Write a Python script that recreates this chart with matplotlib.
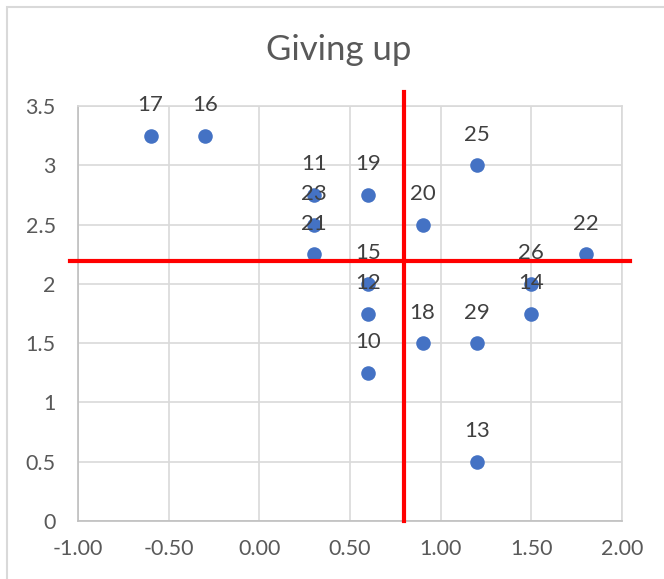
import matplotlib.pyplot as plt
from matplotlib.patches import Rectangle

# ------------------------------------------------------------
# Data
# ------------------------------------------------------------
ids = [17, 16, 11, 23, 21, 19, 15, 12, 10, 20, 18, 25, 29, 13, 26, 14, 22]
xs = [-0.6, -0.3, 0.3, 0.3, 0.3, 0.6, 0.6, 0.6, 0.6, 0.9, 0.9, 1.2, 1.2, 1.2, 1.5, 1.5, 1.8]
ys = [3.25, 3.25, 2.75, 2.5, 2.25, 2.75, 2.0, 1.75, 1.25, 2.5, 1.5, 3.0, 1.5, 0.5, 2.0, 1.75, 2.25]

# quadrant divider lines
vline_x = [0.8, 0.8]
vline_y = [0.0, 3.62]
hline_x = [-1.045, 2.045]
hline_y = [2.19, 2.19]

xticks = [-1.0, -0.5, 0.0, 0.5, 1.0, 1.5, 2.0]
yticks = [0, 0.5, 1, 1.5, 2, 2.5, 3, 3.5]

# ------------------------------------------------------------
# Plot
# ------------------------------------------------------------
plt.rcParams['font.family'] = ['Lato', 'DejaVu Sans']
txt = '#595959'
grid = '#d9d9d9'

W, H = 664, 579
fig = plt.figure(figsize=(W / 100, H / 100), dpi=100)
fig.patches.append(Rectangle((7 / W, -0.1), 1.2, 1 - 7 / H + 0.1,
                             transform=fig.transFigure, fill=False,
                             edgecolor=grid, linewidth=1.5))

ax = fig.add_axes([78 / W, (H - 521) / H, (622 - 78) / W, (521 - 106) / H])

ax.scatter(xs, ys, s=110, color='#4472C4', zorder=3, linewidths=0)
for i, x, y in zip(ids, xs, ys):
    ax.annotate(str(i), (x, y), xytext=(0, 22), textcoords='offset points',
                ha='center', va='center', fontsize=16, color='#404040', zorder=5)

ax.plot(vline_x, vline_y, color='#ff0000', linewidth=3, clip_on=False, zorder=4)
ax.plot(hline_x, hline_y, color='#ff0000', linewidth=3, clip_on=False, zorder=4)

ax.set_xlim(-1, 2)
ax.set_ylim(0, 3.5)
ax.set_xticks(xticks)
ax.set_xticklabels([f'{v:.2f}' for v in xticks])
ax.set_yticks(yticks)
ax.set_yticklabels([f'{v:g}' for v in yticks])
ax.tick_params(length=0, labelsize=15.5, colors=txt)
ax.tick_params(axis='x', pad=13)
ax.tick_params(axis='y', pad=16)
ax.grid(True, color=grid, linewidth=1.2)
ax.set_axisbelow(True)
for sp in ax.spines.values():
    sp.set_color(grid)
    sp.set_linewidth(1.2)
ax.spines['bottom'].set_color('#bfbfbf')
ax.spines['left'].set_color('#bfbfbf')

fig.text(339 / W, 1 - 50 / H, 'Giving up', ha='center', va='center',
         fontsize=25, color=txt)

plt.savefig('out.png', dpi=100)
